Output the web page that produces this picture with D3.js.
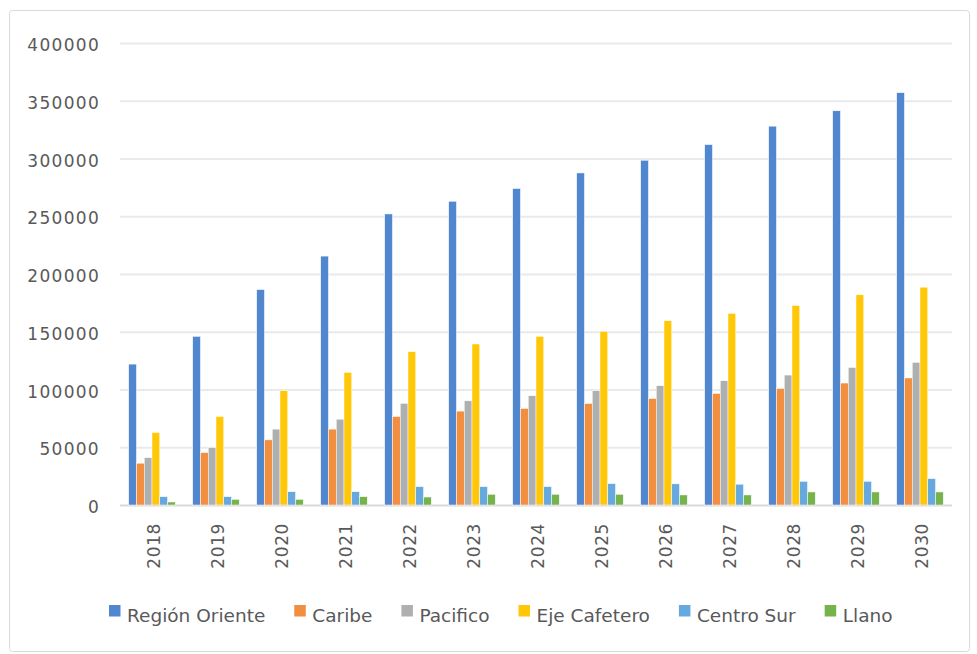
<!DOCTYPE html>
<html>
<head>
<meta charset="utf-8">
<script src="https://cdn.jsdelivr.net/npm/d3@7"></script>
<style>
  html, body { margin: 0; padding: 0; background: #ffffff; }
  svg { display: block; }
  text { font-family: "DejaVu Sans", sans-serif; fill: #595959; }
</style>
</head>
<body>
<svg id="chart" width="977" height="654"></svg>
<script>
// Years on the category axis
const years = ["2018","2019","2020","2021","2022","2023","2024","2025","2026","2027","2028","2029","2030"];

// Regions (series) and their colours
const regions = ["Región Oriente","Caribe","Pacifico","Eje Cafetero","Centro Sur","Llano"];
const regionColors = ["#5087CF","#F28E3F","#AFAFAF","#FFC708","#66A9DF","#76B34D"];

// Series values, one per year
const regionOriente = [122000,146000,186500,215500,252000,263000,274000,287500,298500,312000,328000,341300,357000];
const caribe        = [36200,45400,56400,65700,76600,81300,83600,87900,92200,96600,100900,105600,110000];
const pacifico      = [41000,49700,65700,74300,88000,90200,94600,98900,103300,107600,112500,119100,123500];
const ejeCafetero   = [62700,76600,98900,114800,132800,139400,146000,150400,159500,166000,172700,182000,188600];
const centroSur     = [7200,7200,11500,11500,15900,15900,15900,18500,18300,18000,20500,20500,22800];
const llano         = [2600,4900,4900,7200,6900,9300,9300,9300,8700,8700,11300,11300,11300];

// Y axis tick values
const yTicks = [0,50000,100000,150000,200000,250000,300000,350000,400000];

const seriesValues = [regionOriente, caribe, pacifico, ejeCafetero, centroSur, llano];

const svg = d3.select("#chart");

// Outer chart frame
svg.append("rect")
  .attr("x", 9.5).attr("y", 10.5)
  .attr("width", 960).attr("height", 641)
  .attr("rx", 3)
  .attr("fill", "#ffffff")
  .attr("stroke", "#d9d9d9")
  .attr("stroke-width", 1);

const plot = { left: 120, right: 952, top: 43, bottom: 505 };

const x0 = d3.scaleBand()
  .domain(years)
  .range([plot.left, plot.right])
  .paddingInner(0.272)
  .paddingOuter(0.136);

const x1 = d3.scaleBand()
  .domain(regions)
  .range([0, x0.bandwidth()])
  .padding(0);

const y = d3.scaleLinear()
  .domain([0, 400000])
  .range([plot.bottom, plot.top]);

const color = d3.scaleOrdinal().domain(regions).range(regionColors);

// Horizontal gridlines
const yAxis = d3.axisLeft(y)
  .tickValues(yTicks)
  .tickSize(-(plot.right - plot.left))
  .tickFormat(d => d);

const gy = svg.append("g")
  .attr("transform", `translate(${plot.left},0)`)
  .call(yAxis);
gy.select(".domain").remove();
gy.selectAll(".tick line")
  .attr("stroke", d => d === 0 ? "#d9d9d9" : "#eaeaea")
  .attr("stroke-width", 2);
gy.selectAll(".tick text")
  .attr("x", -20)
  .attr("dy", "0.62em")
  .attr("y", -3)
  .style("font-size", "17px")
  .style("letter-spacing", "1.3px")
  .style("fill", "#595959");

// Bars
const groups = svg.append("g")
  .selectAll("g")
  .data(years)
  .join("g")
  .attr("transform", d => `translate(${x0(d)},0)`);

groups.selectAll("rect")
  .data((yr, i) => regions.map((r, k) => ({ region: r, value: seriesValues[k][i] })))
  .join("rect")
  .attr("x", d => x1(d.region))
  .attr("width", x1.bandwidth())
  .attr("y", d => y(d.value))
  .attr("height", d => y(0) - y(d.value))
  .attr("fill", d => color(d.region))
  .attr("stroke", "#ffffff")
  .attr("stroke-width", 0.5);

// Category labels, rotated
const xAxis = d3.axisBottom(x0).tickSize(0);
const gx = svg.append("g")
  .attr("transform", `translate(0,${plot.bottom})`)
  .call(xAxis);
gx.select(".domain").remove();
gx.selectAll(".tick text")
  .attr("transform", "translate(2,18) rotate(-90)")
  .attr("text-anchor", "end")
  .attr("x", 0)
  .attr("y", 0)
  .attr("dy", "0.36em")
  .style("font-size", "17px")
  .style("letter-spacing", "0.6px")
  .style("fill", "#595959");

// Legend
const legend = svg.append("g").attr("transform", "translate(109,0)");
let lx = 0;
regions.forEach((r, k) => {
  const item = legend.append("g").attr("transform", `translate(${lx},0)`);
  item.append("rect")
    .attr("x", 0).attr("y", 605)
    .attr("width", 11.5).attr("height", 11.5)
    .attr("fill", regionColors[k]);
  const t = item.append("text")
    .attr("x", 18).attr("y", 622)
    .style("font-size", "18.5px")
    .text(r);
  const w = t.node().getComputedTextLength();
  lx += 18 + w + 29;
});
</script>
</body>
</html>
